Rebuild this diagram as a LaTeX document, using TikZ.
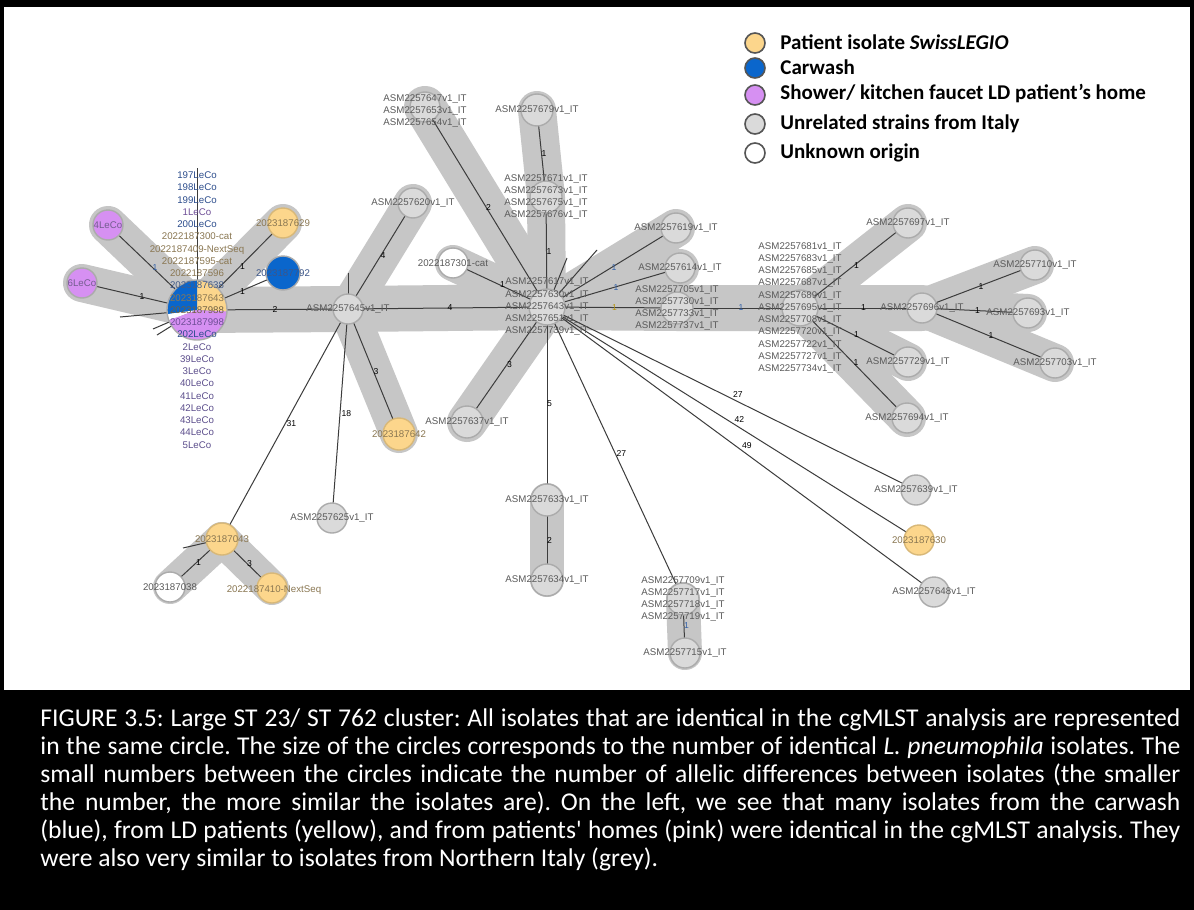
\documentclass[tikz,border=0pt]{standalone}
\usepackage{fontspec}
\setmainfont{Liberation Sans}
\newfontfamily\capfont{Carlito}
\pgfdeclarelayer{bg}
\pgfdeclarelayer{bands}
\pgfdeclarelayer{edges}
\pgfsetlayers{bg,bands,edges,main}
\definecolor{bandc}{HTML}{C6C6C6}
\definecolor{gfill}{HTML}{DADADA}
\definecolor{gbord}{HTML}{ABABAB}
\definecolor{yfill}{HTML}{FCD68C}
\definecolor{ybord}{HTML}{D8B878}
\definecolor{bfill}{HTML}{0A66CC}
\definecolor{pfill}{HTML}{D690F2}
\definecolor{edgec}{HTML}{3C3C3C}
\definecolor{txtg}{HTML}{5A5A5A}
\definecolor{txtbr}{HTML}{8A7752}
\definecolor{txtbl}{HTML}{2B4C8C}
\definecolor{txtpu}{HTML}{6E4E96}
\definecolor{txtvi}{HTML}{5C4E8C}
\definecolor{legb}{HTML}{555555}
\definecolor{labyel}{HTML}{B8960F}
\definecolor{labblu}{HTML}{2F5FA8}
\frenchspacing
\begin{document}
\begin{tikzpicture}[x=0.5pt,y=-0.5pt,
  nd/.style={circle,draw=gbord,fill=gfill,line width=0.7pt,minimum size=15pt,inner sep=0pt},
  ynd/.style={nd,fill=yfill,draw=ybord},
  bnd/.style={nd,fill=bfill,draw=gbord},
  pnd/.style={nd,fill=pfill},
  wnd/.style={nd,fill=white},
  mid/.style={minimum size=16pt},
  large/.style={minimum size=18pt},
  lbl/.style={font=\fontsize{4.85}{6.13}\selectfont,text=txtg,align=center,inner sep=0pt},
  elab/.style={font=\fontsize{4.3}{5}\selectfont,text=black,inner sep=0.3pt,xshift=1.2pt},
  edge/.style={draw=edgec,line width=0.5pt},
  band/.style={draw=bandc,line width=19pt,line cap=round,line join=round},
  wband/.style={draw=bandc,line width=23pt,line cap=round,line join=round},
  legc/.style={circle,draw=legb,line width=0.8pt,minimum size=10pt,inner sep=0pt},
  legt/.style={anchor=west,font=\capfont\bfseries\fontsize{10.5}{12}\selectfont,inner sep=0pt},
  capt/.style={anchor=base west,text=white,inner sep=0pt,font=\capfont\fontsize{12.8}{15}\selectfont},
]
\useasboundingbox (0,0) rectangle (1194,910);
\begin{pgfonlayer}{bg}
\fill[black] (0,0) rectangle (1194,910);
\fill[white] (4,7) rectangle (1190,690);
\end{pgfonlayer}

% ---------- pie node ----------
\coordinate (pc) at (197,310);
\fill[yfill] (pc) -- ++(-3:15pt) arc[start angle=-3,end angle=90,radius=15pt] -- cycle;
\fill[bfill] (pc) -- ++(90:15pt) arc[start angle=90,end angle=188,radius=15pt] -- cycle;
\fill[white] (pc) -- ++(188:15pt) arc[start angle=188,end angle=200,radius=15pt] -- cycle;
\fill[pfill] (pc) -- ++(200:15pt) arc[start angle=200,end angle=357,radius=15pt] -- cycle;
\node[circle,draw=gbord,line width=0.7pt,minimum size=30pt,inner sep=0pt] (pie) at (pc) {};

% ---------- nodes ----------
\node[pnd] (n4leco) at (108,225) {};
\node[pnd] (n6leco) at (82,283) {};
\node[ynd] (n629) at (283,223) {};
\node[bnd,minimum size=17pt] (n792) at (283,273) {};
\node[nd] (a645) at (348,309) {};
\node[nd] (a620) at (413,203) {};
\node[wnd] (c301) at (453,263) {};
\node[ynd,mid] (y642) at (399,434) {};
\node[nd,mid] (a637) at (467,422) {};
\node[nd,large] (hub) at (547,307) {};
\node[nd] (g647) at (425,107) {};
\node[nd,mid] (a679) at (537,110) {};
\node[nd,mid] (g671) at (546,197) {};
\node[nd] (a619) at (676,228) {};
\node[nd] (a614) at (680,268) {};
\node[nd,mid] (g705) at (677,308) {};
\node[nd,large] (g681) at (800,308) {};
\node[nd] (a697) at (908,223) {};
\node[nd] (a696) at (922,308) {};
\node[nd] (a710) at (1035,265) {};
\node[nd] (a693) at (1028,313) {};
\node[nd] (a703) at (1055,363) {};
\node[nd] (a729) at (908,362) {};
\node[nd] (a694) at (907,418) {};
\node[nd,mid] (a633) at (547,500) {};
\node[nd,mid] (a634) at (547,580) {};
\node[nd,mid] (g709) at (683,599) {};
\node[nd] (a715) at (685,653) {};
\node[nd] (a639) at (916,490) {};
\node[ynd] (y630) at (919,540) {};
\node[nd] (a648) at (934,592) {};
\node[nd] (a625) at (332,518) {};
\node[ynd,mid] (y043) at (222,539) {};
\node[wnd] (w038) at (170,587) {};
\node[ynd] (y410) at (272,588) {};

% stub ends
\coordinate (s1) at (197,168);
\coordinate (s2) at (120,317);
\coordinate (s3) at (153,329);
\coordinate (s4) at (157,335);
\coordinate (s5) at (348,273);
\coordinate (s6) at (183,548);
\coordinate (s7) at (567,258);
\coordinate (s8) at (597,250);

% ---------- bands ----------
\begin{pgfonlayer}{bands}
\draw[band] (pie.center) -- (n4leco.center);
\draw[band] (pie.center) -- (n6leco.center);
\draw[band] (pie.center) -- (n629.center);
\draw[wband] (pie.center) -- (a645.center) -- (hub.center) -- (g705.center) -- (g681.center) -- (a696.center);
\draw[band] (a645.center) -- (a620.center);
\draw[band] (a645.center) -- (y642.center);
\draw[band,line width=21pt] (hub.center) -- (g647.center);
\draw[band] (hub.center) -- (g671.center) -- (a679.center);
\draw[band,line width=18pt] (hub.center) -- (c301.center);
\draw[band,line width=20pt] (hub.center) -- (a637.center);
\draw[band] (hub.center) -- (a619.center);
\draw[band] (hub.center) -- (a614.center);
\draw[band] (g681.center) -- (a697.center);
\draw[band] (g681.center) -- (a729.center);
\draw[band] (g681.center) -- (a694.center);
\draw[band] (a696.center) -- (a710.center);
\draw[band] (a696.center) -- (a693.center);
\draw[band] (a696.center) -- (a703.center);
\draw[band,line width=17pt] (a633.center) -- (a634.center);
\draw[band,line width=17pt] (g709.center) -- (a715.center);
\draw[band,line width=17pt] (y043.center) -- (w038.center);
\draw[band,line width=17pt] (y043.center) -- (y410.center);
\end{pgfonlayer}

% ---------- edges ----------
\begin{pgfonlayer}{edges}
\draw[edge] (pie.center) -- node[elab,text=labblu]{1} (n4leco.center);
\draw[edge] (pie.center) -- node[elab]{1} (n6leco.center);
\draw[edge] (pie.center) -- node[elab]{1} (n629.center);
\draw[edge] (pie.center) -- node[elab]{1} (n792.center);
\draw[edge] (pie.center) -- node[elab]{2} (a645.center);
\draw[edge] (a645.center) -- node[elab]{4} (a620.center);
\draw[edge] (a645.center) -- node[elab]{4} (hub.center);
\draw[edge] (a645.center) -- node[elab]{3} (y642.center);
\draw[edge] (a645.center) -- node[elab,xshift=2pt]{31} (y043.center);
\draw[edge] (a645.center) -- node[elab,xshift=2pt]{18} (a625.center);
\draw[edge] (hub.center) -- node[elab]{2} (g647.center);
\draw[edge] (hub.center) -- node[elab]{1} (g671.center);
\draw[edge] (g671.center) -- node[elab]{1} (a679.center);
\draw[edge] (hub.center) -- node[elab]{1} (c301.center);
\draw[edge] (hub.center) -- node[elab]{3} (a637.center);
\draw[edge] (hub.center) -- node[elab]{5} (a633.center);
\draw[edge] (a633.center) -- node[elab]{2} (a634.center);
\draw[edge] (hub.center) -- node[elab,xshift=2pt]{27} (g709.center);
\draw[edge] (g709.center) -- node[elab,text=labblu]{1} (a715.center);
\draw[edge] (hub.center) -- node[elab,xshift=2pt,yshift=2pt]{27} (a639.center);
\draw[edge] (hub.center) -- node[elab,xshift=2pt,yshift=2pt]{42} (y630.center);
\draw[edge] (hub.center) -- node[elab,xshift=2pt,yshift=2pt]{49} (a648.center);
\draw[edge] (hub.center) -- node[elab,text=labblu]{1} (a619.center);
\draw[edge] (hub.center) -- node[elab,text=labblu]{1} (a614.center);
\draw[edge] (hub.center) -- node[elab,text=labyel]{1} (g705.center);
\draw[edge] (g705.center) -- node[elab,text=labblu]{1} (g681.center);
\draw[edge] (g681.center) -- node[elab]{1} (a697.center);
\draw[edge] (g681.center) -- node[elab]{1} (a696.center);
\draw[edge] (g681.center) -- node[elab]{1} (a729.center);
\draw[edge] (g681.center) -- node[elab]{1} (a694.center);
\draw[edge] (a696.center) -- node[elab]{1} (a710.center);
\draw[edge] (a696.center) -- node[elab]{1} (a693.center);
\draw[edge] (a696.center) -- node[elab]{1} (a703.center);
\draw[edge] (y043.center) -- node[elab]{1} (w038.center);
\draw[edge] (y043.center) -- node[elab]{3} (y410.center);
\draw[edge] (pie.center) -- (s1);
\draw[edge] (pie.center) -- (s2);
\draw[edge] (pie.center) -- (s3);
\draw[edge] (pie.center) -- (s4);
\draw[edge] (a645.center) -- (s5);
\draw[edge] (y043.center) -- (s6);
\draw[edge] (hub.center) -- (s7);
\draw[edge] (hub.center) -- (s8);
\end{pgfonlayer}

% ---------- labels ----------
\node[lbl] (tpie) at (197,310) {%
\textcolor{txtbl}{197LeCo}\\\textcolor{txtbl}{198LeCo}\\\textcolor{txtbl}{199LeCo}\\
\textcolor{txtpu}{1LeCo}\\\textcolor{txtbl}{200LeCo}\\
\textcolor{txtbr}{2022187300-cat}\\\textcolor{txtbr}{2022187409-NextSeq}\\
\textcolor{txtbr}{2022187595-cat}\\\textcolor{txtbr}{2022187596}\\
\textcolor{txtbl!70!gray}{2023187638}\\\textcolor{txtbr}{2023187643}\\
\textcolor{txtbr!80!black}{2023187988}\\\textcolor{txtpu}{2023187998}\\
\textcolor{txtbl}{202LeCo}\\\textcolor{txtvi}{2LeCo}\\\textcolor{txtvi}{39LeCo}\\
\textcolor{txtvi}{3LeCo}\\\textcolor{txtvi}{40LeCo}\\\textcolor{txtvi}{41LeCo}\\
\textcolor{txtvi}{42LeCo}\\\textcolor{txtvi}{43LeCo}\\\textcolor{txtvi}{44LeCo}\\
\textcolor{txtvi}{5LeCo}};
\node[lbl,text=txtpu!70!gray] at (n4leco) {4LeCo};
\node[lbl,text=txtpu!70!gray] at (n6leco) {6LeCo};
\node[lbl,text=txtbr] at (n629) {2023187629};
\node[lbl,text=txtbl!80!gray] at (n792) {2023187792};
\node[lbl] at (a645) {ASM2257645v1\_IT};
\node[lbl] at (a620) {ASM2257620v1\_IT};
\node[lbl] at (c301) {2022187301-cat};
\node[lbl,text=txtbr] at (y642) {2023187642};
\node[lbl] at (a637) {ASM2257637v1\_IT};
\node[lbl] at (hub) {ASM2257617v1\_IT\\ASM2257630v1\_IT\\ASM2257643v1\_IT\\ASM2257651v1\_IT\\ASM2257739v1\_IT};
\node[lbl] at (425,111) {ASM2257647v1\_IT\\ASM2257653v1\_IT\\ASM2257654v1\_IT};
\node[lbl] at (a679) {ASM2257679v1\_IT};
\node[lbl] at (g671) {ASM2257671v1\_IT\\ASM2257673v1\_IT\\ASM2257675v1\_IT\\ASM2257676v1\_IT};
\node[lbl] at (a619) {ASM2257619v1\_IT};
\node[lbl] at (a614) {ASM2257614v1\_IT};
\node[lbl] at (g705) {ASM2257705v1\_IT\\ASM2257730v1\_IT\\ASM2257733v1\_IT\\ASM2257737v1\_IT};
\node[lbl] at (g681) {ASM2257681v1\_IT\\ASM2257683v1\_IT\\ASM2257685v1\_IT\\ASM2257687v1\_IT\\ASM2257689v1\_IT\\ASM2257695v1\_IT\\ASM2257708v1\_IT\\ASM2257720v1\_IT\\ASM2257722v1\_IT\\ASM2257727v1\_IT\\ASM2257734v1\_IT};
\node[lbl] at (a697) {ASM2257697v1\_IT};
\node[lbl] at (a696) {ASM2257696v1\_IT};
\node[lbl] at (a710) {ASM2257710v1\_IT};
\node[lbl] at (a693) {ASM2257693v1\_IT};
\node[lbl] at (a703) {ASM2257703v1\_IT};
\node[lbl] at (a729) {ASM2257729v1\_IT};
\node[lbl] at (a694) {ASM2257694v1\_IT};
\node[lbl] at (a633) {ASM2257633v1\_IT};
\node[lbl] at (a634) {ASM2257634v1\_IT};
\node[lbl] at (g709) {ASM2257709v1\_IT\\ASM2257717v1\_IT\\ASM2257718v1\_IT\\ASM2257719v1\_IT};
\node[lbl] at (a715) {ASM2257715v1\_IT};
\node[lbl] at (a639) {ASM2257639v1\_IT};
\node[lbl,text=txtbr] at (y630) {2023187630};
\node[lbl] at (a648) {ASM2257648v1\_IT};
\node[lbl] at (a625) {ASM2257625v1\_IT};
\node[lbl,text=txtbr] at (y043) {2023187043};
\node[lbl] at (w038) {2023187038};
\node[lbl,text=txtbr] at (274,590) {2022187410-NextSeq};

% ---------- legend ----------
\node[legc,fill=yfill] (l1) at (755,43) {};
\node[legc,fill=bfill] (l2) at (755,68) {};
\node[legc,fill=pfill] (l3) at (755,95) {};
\node[legc,fill=gfill] (l4) at (755,124) {};
\node[legc,fill=white] (l5) at (755,153) {};
\node[legt] at (780,42) {Patient isolate \textit{SwissLEGIO}};
\node[legt] at (780,67) {Carwash};
\node[legt] at (780,94) {Shower/ kitchen faucet LD patient’s home};
\node[legt] at (780,124) {Unrelated strains from Italy};
\node[legt] at (780,153) {Unknown origin};

% ---------- caption ----------
\node[capt] (c1) at (40,726) {\makebox[570pt][s]{FIGURE 3.5: Large ST 23/ ST 762 cluster: All isolates that are identical in the cgMLST analysis are represented}};
\node[capt] (c2) at (40,754) {\makebox[570pt][s]{in the same circle. The size of the circles corresponds to the number of identical \textit{L. pneumophila} isolates. The}};
\node[capt] (c3) at (40,782) {\makebox[570pt][s]{small numbers between the circles indicate the number of allelic differences between isolates (the smaller}};
\node[capt] (c4) at (40,810) {\makebox[570pt][s]{the number, the more similar the isolates are). On the left, we see that many isolates from the carwash}};
\node[capt] (c5) at (40,838) {\makebox[570pt][s]{(blue), from LD patients (yellow), and from patients' homes (pink) were identical in the cgMLST analysis. They}};
\node[capt] (c6) at (40,866) {were also very similar to isolates from Northern Italy (grey).};
\end{tikzpicture}
\end{document}
